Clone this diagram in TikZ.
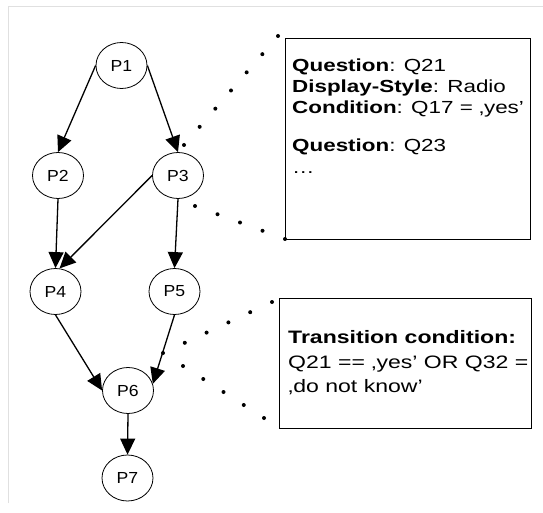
\documentclass[tikz,border=0pt]{standalone}
\usepackage{fontspec}
\setmainfont{Liberation Sans}
\newfontfamily\boxfont[FakeStretch=1.28]{Liberation Sans}
\newfontfamily\circfont[FakeStretch=1.1]{Liberation Sans}
\usetikzlibrary{arrows.meta,shapes.geometric,calc}
\begin{document}
\begin{tikzpicture}[x=1pt,y=-1pt,
  pnode/.style={ellipse,draw,line width=0.8pt,minimum width=51pt,minimum height=46pt,inner sep=0pt,font=\circfont\fontsize{16}{19}\selectfont},
  flow/.style={line width=1.3pt,-{Triangle[length=16pt,width=15pt]}},
  infobox/.style={draw,line width=0.9pt,inner sep=0pt},
  boxtxt/.style={anchor=base west,inner sep=0pt,font=\boxfont\fontsize{17.5}{21}\selectfont},
  boxtxtb/.style={anchor=base west,inner sep=0pt,font=\boxfont\fontsize{18}{24}\selectfont},
  dotmark/.style={fill=black}
]
\useasboundingbox (0,0) rectangle (543,513);
\fill[white] (0,0) rectangle (543,513);
% light frame
\draw[black!12,line width=1pt] (8,503) -- (8,7) -- (543,7);

% process nodes
\node[pnode] (P1) at (121.5,65.5) {P1};
\node[pnode] (P2) at (58,175.5) {P2};
\node[pnode] (P3) at (178,175.5) {P3};
\node[pnode] (P4) at (55.5,291.5) {P4};
\node[pnode] (P5) at (174.5,291.5) {P5};
\node[pnode] (P6) at (128,390.5) {P6};
\node[pnode] (P7) at (127.5,478) {P7};

% edges
\draw[flow] (P1.west) -- (P2.north);
\draw[flow] (P1.east) -- (P3.north);
\draw[flow] (P2.south) -- (P4.north);
\draw[flow] (P3.west) -- (P4.80);
\draw[flow] (P3.south) -- (P5.north);
\draw[flow] (P4.south) -- (P6.west);
\draw[flow] (P5.south) -- (P6.15);
\draw[flow] (P6.south) -- (P7.north);

% info boxes
\node[infobox,minimum width=245pt,minimum height=201pt] (box1) at (407.5,138.5) {};
\node[boxtxt] (l1) at (292,72) {\textbf{Question}: Q21};
\node[boxtxt] (l2) at (292,93) {\textbf{Display-Style}: Radio};
\node[boxtxt] (l3) at (292,114) {\textbf{Condition}: Q17 = ‚yes’};
\node[boxtxt] (l4) at (292,152) {\textbf{Question}: Q23};
\node[boxtxt] (l5) at (292,174) {…};

\node[infobox,minimum width=252pt,minimum height=130pt] (box2) at (405,363) {};
\node[boxtxtb] (t1) at (288,343) {\textbf{Transition condition:}};
\node[boxtxtb] (t2) at (288,368) {Q21 == ‚yes’ OR Q32 =};
\node[boxtxtb] (t3) at (288,392) {‚do not know’};

% dotted callout lines
\coordinate (a1) at (184,145);
\coordinate (a2) at (278,36);
\coordinate (b1) at (195,206);
\coordinate (b2) at (285,239);
\coordinate (c1) at (163,353);
\coordinate (c2) at (272,302);
\coordinate (e1) at (183,366);
\coordinate (e2) at (264,418);
\foreach \i in {0,...,6} \fill[dotmark] ($(a1)!\i/6!(a2)$) circle (2pt);
\foreach \i in {0,...,4} \fill[dotmark] ($(b1)!\i/4!(b2)$) circle (2pt);
\foreach \i in {0,...,5} \fill[dotmark] ($(c1)!\i/5!(c2)$) circle (2pt);
\foreach \i in {0,...,4} \fill[dotmark] ($(e1)!\i/4!(e2)$) circle (2pt);
\end{tikzpicture}
\end{document}
